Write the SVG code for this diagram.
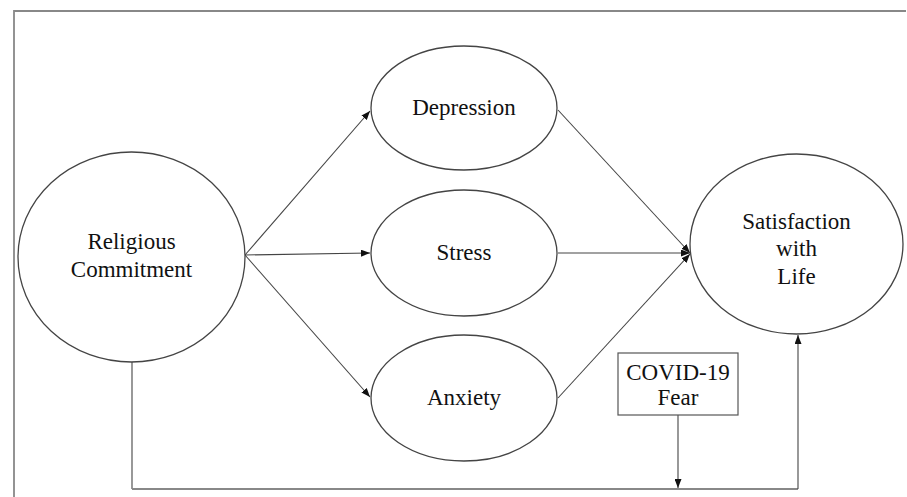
<svg xmlns="http://www.w3.org/2000/svg" width="907" height="497" viewBox="0 0 907 497">
<style>
.node{fill:#fff;stroke:#444;stroke-width:1.3}
.t{font-family:"Liberation Serif","Times New Roman",serif;font-size:23px;fill:#111;text-anchor:middle}
.c{stroke:#444;stroke-width:1.1;fill:none}
.g{stroke:#888;stroke-width:1.8;fill:none}
</style>
<defs>
<marker id="ah" markerUnits="userSpaceOnUse" markerWidth="9" markerHeight="7" refX="9" refY="3.5" orient="auto">
<path d="M0,0 L9,3.5 L0,7 z" fill="#111"/>
</marker>
</defs>
<g id="frame">
<path d="M14,497 L14,11 L906,11" class="g"/>
</g>
<g id="connectors">
<line x1="245" y1="255" x2="370" y2="111" class="c" marker-end="url(#ah)"/>
<line x1="245" y1="255" x2="370" y2="253" class="c" marker-end="url(#ah)"/>
<line x1="245" y1="255" x2="370" y2="397" class="c" marker-end="url(#ah)"/>
<line x1="558" y1="110" x2="690" y2="253" class="c" marker-end="url(#ah)"/>
<line x1="558" y1="253" x2="690" y2="253" class="c" marker-end="url(#ah)"/>
<line x1="558" y1="398" x2="690" y2="254" class="c" marker-end="url(#ah)"/>
<line x1="132" y1="362" x2="132" y2="489" class="c"/>
<path d="M132,489 L798,489" class="g"/>
<line x1="798" y1="489" x2="798" y2="335" class="c" marker-end="url(#ah)"/>
<line x1="678" y1="415" x2="678" y2="488" class="c" marker-end="url(#ah)"/>
</g>
<g id="religious">
<ellipse cx="131.5" cy="257" rx="113.5" ry="105" class="node"/>
<text x="131.5" y="249" class="t">Religious</text>
<text x="131.5" y="277" class="t">Commitment</text>
</g>
<g id="depression">
<ellipse cx="464" cy="108" rx="93" ry="62" class="node"/>
<text x="464" y="115" class="t">Depression</text>
</g>
<g id="stress">
<ellipse cx="464" cy="253" rx="93" ry="63" class="node"/>
<text x="464" y="260" class="t">Stress</text>
</g>
<g id="anxiety">
<ellipse cx="464" cy="398" rx="93" ry="63" class="node"/>
<text x="464" y="405" class="t">Anxiety</text>
</g>
<g id="satisfaction">
<ellipse cx="796.5" cy="244" rx="106.5" ry="90" class="node"/>
<text x="796.5" y="229" class="t">Satisfaction</text>
<text x="796.5" y="256" class="t">with</text>
<text x="796.5" y="284" class="t">Life</text>
</g>
<g id="covid">
<rect x="618" y="353" width="120" height="62" fill="#fff" stroke="#555" stroke-width="1.2"/>
<text x="678" y="380" class="t">COVID-19</text>
<text x="678" y="405" class="t">Fear</text>
</g>
</svg>
